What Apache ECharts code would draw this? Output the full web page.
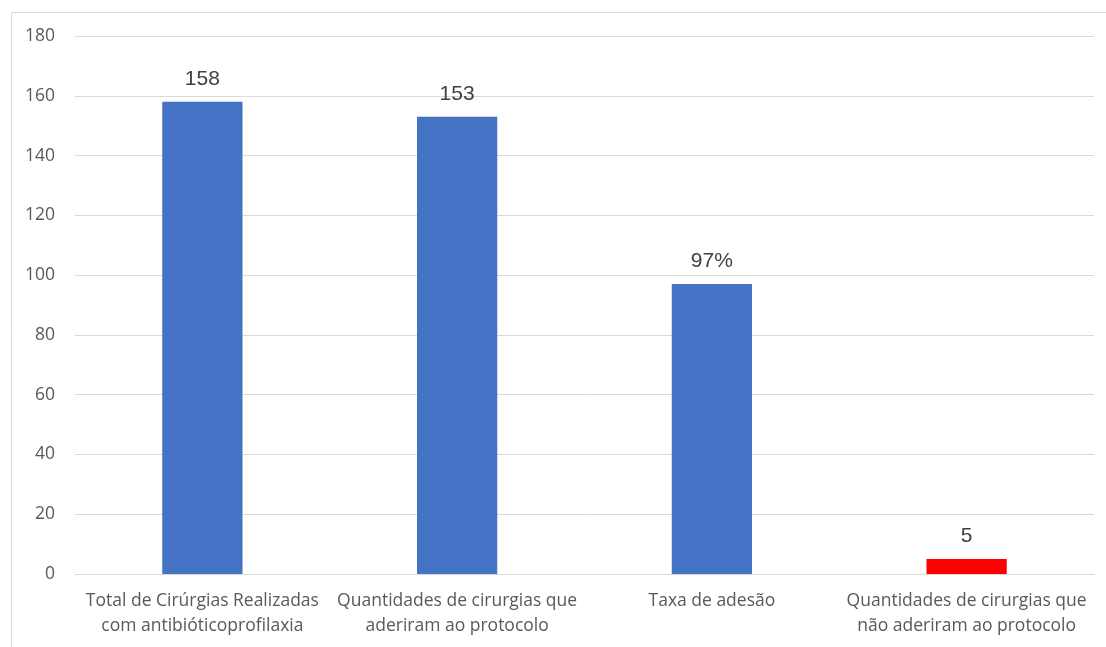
<!DOCTYPE html>
<html>
<head>
<meta charset="utf-8">
<script src="https://cdn.jsdelivr.net/npm/echarts@6/dist/echarts.min.js"></script>
<style>
html,body{margin:0;padding:0;background:#fff;}
#c{width:1106px;height:647px;}
</style>
</head>
<body>
<div id="c"></div>
<script>
const categories = [
  "Total de Cirúrgias Realizadas\ncom antibióticoprofilaxia",
  "Quantidades de cirurgias que\naderiram ao protocolo",
  "Taxa de adesão",
  "Quantidades de cirurgias que\nnão aderiram ao protocolo"
];
const values = [158, 153, 97, 5];
const valueLabels = ["158", "153", "97%", "5"];
const barColors = ["#4472C4", "#4472C4", "#4472C4", "#FF0000"];
const yTicks = [0, 20, 40, 60, 80, 100, 120, 140, 160, 180];

const chart = echarts.init(document.getElementById('c'), null, {renderer: 'canvas'});
chart.setOption({
  animation: false,
  backgroundColor: '#fff',
  graphic: [{
    type: 'rect', left: 9, top: 10, silent: true,
    shape: {width: 1200, height: 700},
    style: {fill: 'none', stroke: '#d9d9d9', lineWidth: 1}
  }],
  grid: {left: 75, right: 12, top: 36, bottom: 73, containLabel: false},
  xAxis: {
    type: 'category',
    data: categories,
    axisTick: {show: false},
    axisLine: {lineStyle: {color: '#d9d9d9'}},
    axisLabel: {
      color: '#595959', fontFamily: 'Open Sans', fontSize: 17.5,
      lineHeight: 25, margin: 15, interval: 0
    }
  },
  yAxis: {
    type: 'value', min: 0, max: 180, interval: 20,
    axisLine: {show: false}, axisTick: {show: false},
    splitLine: {lineStyle: {color: '#d9d9d9'}},
    axisLabel: {
      color: '#595959', fontFamily: 'Open Sans', fontSize: 17.5, margin: 20,
      formatter: v => yTicks.includes(v) ? String(v) : ''
    }
  },
  series: [{
    type: 'bar',
    barWidth: '31.5%',
    data: values.map((v, i) => ({value: v, itemStyle: {color: barColors[i]}})),
    label: {
      show: true, position: 'top', distance: 12,
      color: '#404040', fontFamily: 'Liberation Sans', fontSize: 21,
      formatter: p => valueLabels[p.dataIndex]
    }
  }]
});
</script>
</body>
</html>
